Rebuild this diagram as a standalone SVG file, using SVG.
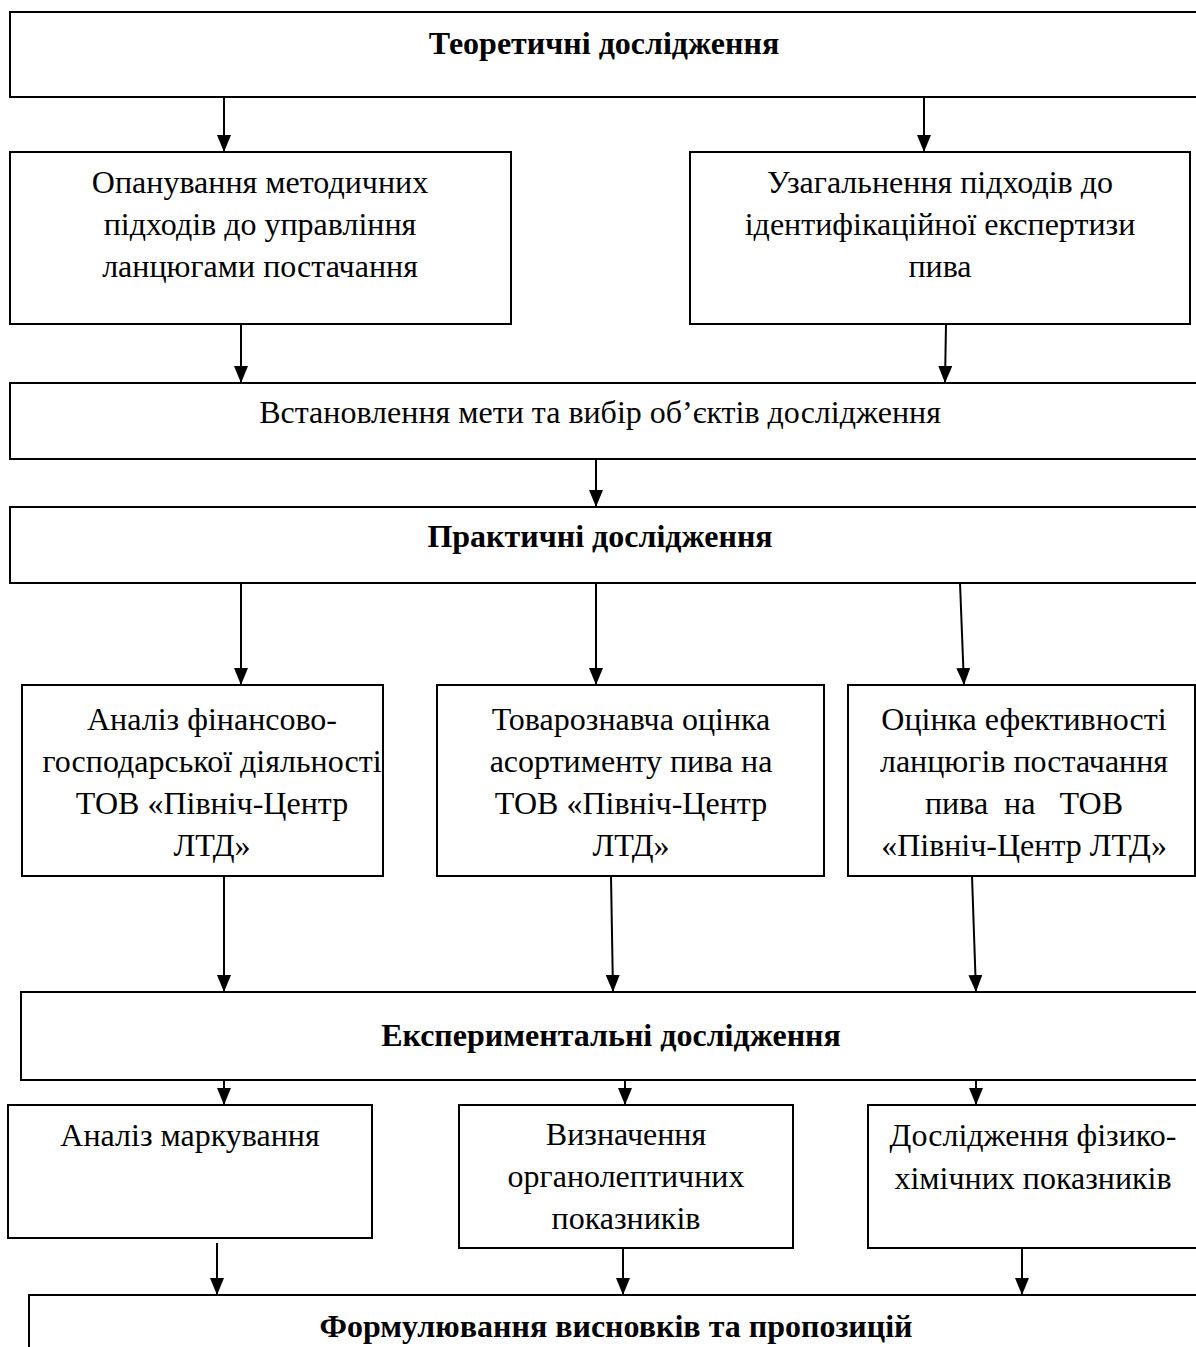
<svg xmlns="http://www.w3.org/2000/svg" width="1196" height="1347" viewBox="0 0 1196 1347">
<style>
.box{fill:#fff;stroke:#000;stroke-width:2}
.t{font-family:"Liberation Serif","Times New Roman",serif;font-size:32px;fill:#000;text-anchor:middle;white-space:pre}
.b{font-weight:bold}
.c{stroke:#000;stroke-width:2;fill:none;marker-end:url(#arr)}
</style>
<defs>
<marker id="arr" markerUnits="userSpaceOnUse" markerWidth="17" markerHeight="14" refX="17" refY="7" orient="auto" viewBox="0 0 17 14">
<path d="M0,0 L17,7 L0,14 Z" fill="#000"/>
</marker>
</defs>
<rect width="1196" height="1347" fill="#fff"/>
<g id="connectors">
<line class="c" x1="224" y1="97" x2="224" y2="152"/>
<line class="c" x1="924" y1="97" x2="924" y2="152"/>
<line class="c" x1="241" y1="324" x2="241" y2="383"/>
<line class="c" x1="946" y1="324" x2="945" y2="383"/>
<line class="c" x1="596" y1="459" x2="596" y2="507"/>
<line class="c" x1="241" y1="583" x2="241" y2="685"/>
<line class="c" x1="596" y1="583" x2="596" y2="685"/>
<line class="c" x1="960" y1="583" x2="964" y2="685"/>
<line class="c" x1="224" y1="876" x2="224" y2="992"/>
<line class="c" x1="611" y1="876" x2="613" y2="992"/>
<line class="c" x1="972" y1="876" x2="976" y2="992"/>
<line class="c" x1="224" y1="1080" x2="224" y2="1105"/>
<line class="c" x1="625" y1="1080" x2="625" y2="1105"/>
<line class="c" x1="976" y1="1080" x2="976" y2="1105"/>
<line class="c" x1="217" y1="1243" x2="217" y2="1295"/>
<line class="c" x1="623" y1="1243" x2="623" y2="1295"/>
<line class="c" x1="1022" y1="1239" x2="1022" y2="1295"/>
</g>
<g id="n1"><rect class="box" x="10" y="12" width="1200" height="85"/><text class="t b" x="604" y="54">Теоретичні дослідження</text></g>
<g id="n2"><rect class="box" x="10" y="152" width="501" height="172"/>
<text class="t" x="260" y="193">Опанування методичних</text>
<text class="t" x="260" y="235">підходів до управління</text>
<text class="t" x="260" y="277">ланцюгами постачання</text></g>
<g id="n3"><rect class="box" x="690" y="152" width="500" height="172"/>
<text class="t" x="940" y="193">Узагальнення підходів до</text>
<text class="t" x="940" y="235">ідентифікаційної експертизи</text>
<text class="t" x="940" y="277">пива</text></g>
<g id="n4"><rect class="box" x="10" y="383" width="1200" height="76"/><text class="t" x="600" y="423">Встановлення мети та вибір об’єктів дослідження</text></g>
<g id="n5"><rect class="box" x="10" y="507" width="1200" height="76"/><text class="t b" x="600" y="547">Практичні дослідження</text></g>
<g id="n6"><rect class="box" x="22" y="685" width="361" height="191"/>
<text class="t" x="212" y="730">Аналіз фінансово-</text>
<text class="t" x="212" y="772">господарської діяльності</text>
<text class="t" x="212" y="814">ТОВ «Північ-Центр</text>
<text class="t" x="212" y="856">ЛТД»</text></g>
<g id="n7"><rect class="box" x="437" y="685" width="387" height="191"/>
<text class="t" x="631" y="730">Товарознавча оцінка</text>
<text class="t" x="631" y="772">асортименту пива на</text>
<text class="t" x="631" y="814">ТОВ «Північ-Центр</text>
<text class="t" x="631" y="856">ЛТД»</text></g>
<g id="n8"><rect class="box" x="848" y="685" width="347" height="191"/>
<text class="t" x="1024" y="730">Оцінка ефективності</text>
<text class="t" x="1024" y="772">ланцюгів постачання</text>
<text class="t" x="1024" y="814">пива  на   ТОВ</text>
<text class="t" x="1024" y="856">«Північ-Центр ЛТД»</text></g>
<g id="n9"><rect class="box" x="21" y="992" width="1200" height="88"/><text class="t b" x="611" y="1046">Експериментальні дослідження</text></g>
<g id="n10"><rect class="box" x="8" y="1105" width="364" height="133"/><text class="t" x="190" y="1146">Аналіз маркування</text></g>
<g id="n11"><rect class="box" x="459" y="1105" width="334" height="143"/>
<text class="t" x="626" y="1145">Визначення</text>
<text class="t" x="626" y="1187">органолептичних</text>
<text class="t" x="626" y="1229">показників</text></g>
<g id="n12"><rect class="box" x="868" y="1105" width="340" height="143"/>
<text class="t" x="1033" y="1146">Дослідження фізико-</text>
<text class="t" x="1033" y="1189">хімічних показників</text></g>
<g id="n13"><rect class="box" x="29" y="1295" width="1200" height="80"/><text class="t b" x="616" y="1337">Формулювання висновків та пропозицій</text></g>
</svg>
